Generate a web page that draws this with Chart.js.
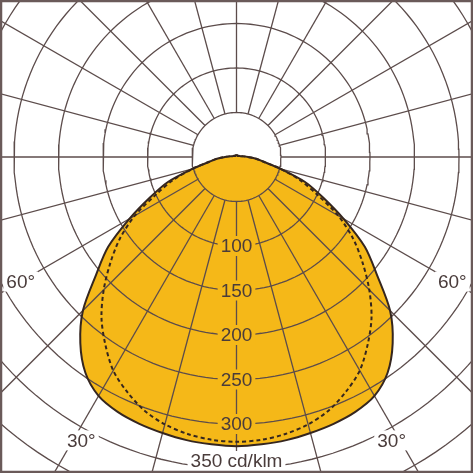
<!DOCTYPE html>
<html>
<head>
<meta charset="utf-8">
<style>
  html,body{ margin:0; padding:0; background:#fff; }
  #wrap{ width:473px; height:473px; }
</style>
<script src="https://cdn.jsdelivr.net/npm/chart.js@4.4.1/dist/chart.umd.min.js"></script>
</head>
<body>
<div id="wrap"><canvas id="ldc" width="473" height="473"></canvas></div>
<script>
// ── DATOS ───────────────────────────────────────────────
// ángulo gamma desde la vertical hacia abajo (0..180), cd/klm
const ANGLES = [0,5,10,15,20,25,30,35,40,45,50,55,60,65,70,75,80,85,90,
                95,100,105,110,115,120,125,130,135,140,145,150,155,160,165,170,175,180];
const C0_VALUES = [325,324,323,321,319,316,310,296,273,244,206,176,139,107,82,51,31,22,13,
                   8,5,4,3,3,2,2,2,2,2,2,2,2,2,2,2,2,2];
const C90_VALUES = [320,319,316,311,303,291,277,257,236,211,185,160,132,100,76,51,31,22,13,
                    8,5,4,3,3,2,2,2,2,2,2,2,2,2,2,2,2,2];

const RINGS = [50,100,150,200,250,300,350,400,450];
const SPOKES = [0,15,30,45,60,75,90,105,120,135,150,165,180,195,210,225,240,255,270,285,300,315,330,345];
const RING_LABEL_VALUES = [100,150,200,250,300,350];
const RING_LABELS = ['100','150','200','250','300','350 cd/klm'];
const ANGLE_LABELS = ['60°','30°'];

// ── ESTILO ──────────────────────────────────────────────
const FILL = '#f5b818';
const GRID = '#5c4c4b';
const CURVE = '#35261f';
const TEXT = '#4a3c3b';
const FONT = '19px "Liberation Sans", Arial, sans-serif';
const PX_PER_UNIT = 0.89;
const CX = 236.5, CY = 157, SIZE = 473;
const ANGLE_LABEL_POS = [ { deg:60, r:280 }, { deg:28.7, r:363 } ];

// ── UTILS ───────────────────────────────────────────────
const rad = d => d*Math.PI/180;
function polar(deg, r){ return { x: r*Math.sin(rad(deg)), y: -r*Math.cos(rad(deg)) }; }

function curvePoints(values){
  const pts = [];
  for(let i=ANGLES.length-1;i>=0;i--){ const p = polar(ANGLES[i], values[i]); pts.push({ x:-p.x, y:p.y }); }
  for(let i=1;i<ANGLES.length;i++) pts.push(polar(ANGLES[i], values[i]));
  return pts;
}
function ringPoints(r){
  const pts = [];
  for(let a=0;a<=360;a+=2) pts.push(polar(a, r));
  return pts;
}
function spokePoints(deg){
  return [polar(deg, RINGS[0]), polar(deg, RINGS[RINGS.length-1]+100)];
}

// ── DATASETS ────────────────────────────────────────────
const line = (data, extra) => Object.assign({
  data, showLine:true, pointRadius:0, fill:false, borderWidth:1.3, borderColor:GRID
}, extra);

const datasets = [
  line(curvePoints(C0_VALUES), { fill:'shape', backgroundColor:FILL, borderWidth:0, tension:0.3, order:10 }),
  ...RINGS.map(r => line(ringPoints(r), { order:5 })),
  ...SPOKES.map(s => line(spokePoints(s), { order:5 })),
  line(curvePoints(C90_VALUES), { borderColor:CURVE, borderWidth:2, borderDash:[4,3], tension:0.3, order:2 }),
  line(curvePoints(C0_VALUES), { borderColor:CURVE, borderWidth:2, tension:0.3, order:1 }),
];

// ── ETIQUETAS ───────────────────────────────────────────
function boxedText(ctx, text, x, y, bg){
  ctx.font = FONT;
  const w = ctx.measureText(text).width;
  ctx.fillStyle = bg;
  ctx.fillRect(x - w/2 - 3, y - 10, w + 6, 20);
  ctx.fillStyle = TEXT;
  ctx.textAlign = 'center';
  ctx.textBaseline = 'middle';
  ctx.fillText(text, x, y + 1);
}

const labelsPlugin = {
  id:'ldcLabels',
  afterDatasetsDraw(chart){
    const { ctx, scales:{ x, y } } = chart;
    ctx.save();
    RING_LABEL_VALUES.forEach((v,i)=>{
      const px = x.getPixelForValue(0);
      const py = Math.min(y.getPixelForValue(-v), chart.height - 12);
      boxedText(ctx, RING_LABELS[i], px, py, v < C0_VALUES[0] ? FILL : '#fff');
    });
    ANGLE_LABELS.forEach((t,i)=>{
      const p = polar(ANGLE_LABEL_POS[i].deg, ANGLE_LABEL_POS[i].r);
      boxedText(ctx, t, x.getPixelForValue(-p.x), y.getPixelForValue(p.y), '#fff');
      boxedText(ctx, t, x.getPixelForValue(p.x), y.getPixelForValue(p.y), '#fff');
    });
    // marco
    ctx.strokeStyle = '#6a5a59';
    ctx.lineWidth = 2.5;
    ctx.strokeRect(1, 1, chart.width - 2, chart.height - 2);
    ctx.restore();
  }
};

// ── CHART ───────────────────────────────────────────────
const half = SIZE/2/PX_PER_UNIT;
new Chart(document.getElementById('ldc'), {
  type:'scatter',
  data:{ datasets },
  options:{
    responsive:false,
    animation:false,
    layout:{ padding:0 },
    plugins:{ legend:{ display:false }, tooltip:{ enabled:false } },
    scales:{
      x:{ type:'linear', display:false, min:-CX/PX_PER_UNIT, max:(SIZE-CX)/PX_PER_UNIT },
      y:{ type:'linear', display:false, min:-(SIZE-CY)/PX_PER_UNIT, max:CY/PX_PER_UNIT }
    }
  },
  plugins:[labelsPlugin]
});
</script>
</body>
</html>
